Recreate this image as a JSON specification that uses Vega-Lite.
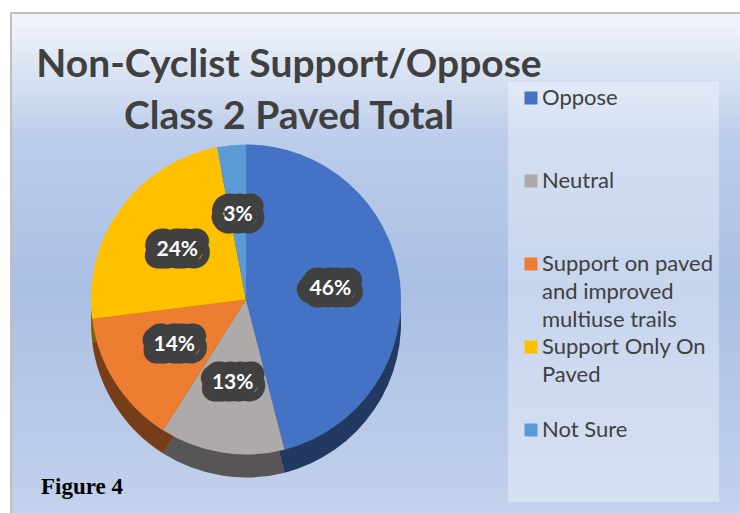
{
  "$schema": "https://vega.github.io/schema/vega-lite/v6.json",
  "width": 732,
  "height": 503,
  "padding": {"left": 10, "top": 12, "right": 0, "bottom": 0},
  "background": "#ffffff",
  "title": {
    "text": ["Non-Cyclist Support/Oppose", "Class 2 Paved Total"],
    "font": "Lato",
    "fontSize": 39,
    "fontWeight": "bold",
    "color": "#404040",
    "lineHeight": 52,
    "anchor": "middle",
    "dx": -88,
    "offset": -125
  },
  "datasets": {
    "slices": [
      {"category": "Oppose", "value": 0.46, "rank": 1},
      {"category": "Neutral", "value": 0.13, "rank": 2},
      {"category": "Support on paved and improved multiuse trails", "value": 0.14, "rank": 3},
      {"category": "Support Only On Paved", "value": 0.24, "rank": 4},
      {"category": "Not Sure", "value": 0.03, "rank": 5}
    ]
  },
  "data": {"name": "slices"},
  "layer": [
    {
      "data": {"values": [{}]},
      "mark": {
        "type": "rect",
        "color": {
          "gradient": "linear", "x1": 0, "y1": 0, "x2": 0, "y2": 1,
          "stops": [
            {"offset": 0, "color": "#f3f6fb"},
            {"offset": 0.25, "color": "#bccdea"},
            {"offset": 0.55, "color": "#a9bfe4"},
            {"offset": 1, "color": "#c3d2ec"}
          ]
        },
        "stroke": "#bfbfbf",
        "strokeWidth": 2
      },
      "encoding": {}
    },
    {
      "mark": {"type": "arc", "outerRadius": 155, "xOffset": -131, "yOffset": 58},
      "encoding": {
        "theta": {"field": "value", "type": "quantitative", "stack": true},
        "order": {"field": "rank", "type": "quantitative"},
        "color": {"field": "category", "type": "nominal"}
      }
    },
    {
      "mark": {"type": "arc", "outerRadius": 155, "xOffset": -131, "yOffset": 58, "color": "#000000", "opacity": 0.5},
      "encoding": {
        "theta": {"field": "value", "type": "quantitative", "stack": true},
        "order": {"field": "rank", "type": "quantitative"}
      }
    },
    {
      "mark": {"type": "arc", "outerRadius": 155, "xOffset": -131, "yOffset": 35},
      "encoding": {
        "theta": {"field": "value", "type": "quantitative", "stack": true},
        "order": {"field": "rank", "type": "quantitative"},
        "color": {
          "field": "category", "type": "nominal",
          "scale": {
            "domain": ["Oppose", "Neutral", "Support on paved and improved multiuse trails", "Support Only On Paved", "Not Sure"],
            "range": ["#4472c4", "#aeaaaa", "#ed7d31", "#ffc000", "#5b9bd5"]
          },
          "legend": {
            "orient": "none",
            "legendX": 497,
            "legendY": 69,
            "title": null,
            "fillColor": "rgba(255,255,255,0.35)",
            "padding": 5,
            "symbolType": "square",
            "symbolSize": 169,
            "symbolStrokeWidth": 0,
            "symbolOffset": 7,
            "labelOffset": 0,
            "labelFont": "Lato",
            "labelFontSize": 22,
            "labelColor": "#404040",
            "labelLimit": 300,
            "labelBaseline": "top",
            "gridAlign": "all",
            "rowPadding": 5,
            "labelExpr": "datum.label == 'Support on paved and improved multiuse trails' ? ['Support on paved', 'and improved', 'multiuse trails'] : datum.label == 'Support Only On Paved' ? ['Support Only On', 'Paved', ''] : [datum.label, '', '']",
            "encode": {
              "labels": {"update": {"lineHeight": {"value": 28}, "dy": {"value": -10}}}
            }
          }
        }
      }
    },
    {
      "mark": {"type": "text", "radius": 85, "xOffset": -131, "yOffset": 35, "font": "Lato", "fontSize": 21, "fontWeight": "bold", "fill": "#404040", "stroke": "#404040", "strokeWidth": 25, "strokeJoin": "round"},
      "encoding": {
        "theta": {"field": "value", "type": "quantitative", "stack": true},
        "order": {"field": "rank", "type": "quantitative"},
        "text": {"field": "value", "type": "quantitative", "format": ".0%"}
      }
    },
    {
      "mark": {"type": "text", "radius": 85, "xOffset": -131, "yOffset": 35, "font": "Lato", "fontSize": 21, "fontWeight": "bold", "color": "#ffffff"},
      "encoding": {
        "theta": {"field": "value", "type": "quantitative", "stack": true},
        "order": {"field": "rank", "type": "quantitative"},
        "text": {"field": "value", "type": "quantitative", "format": ".0%"}
      }
    },
    {
      "data": {"values": [{"caption": "Figure 4"}]},
      "mark": {"type": "text", "font": "Liberation Serif", "fontSize": 23, "fontWeight": "bold", "color": "#000000", "align": "left", "baseline": "alphabetic", "x": 30, "y": 481},
      "encoding": {"text": {"field": "caption"}}
    }
  ]
}
